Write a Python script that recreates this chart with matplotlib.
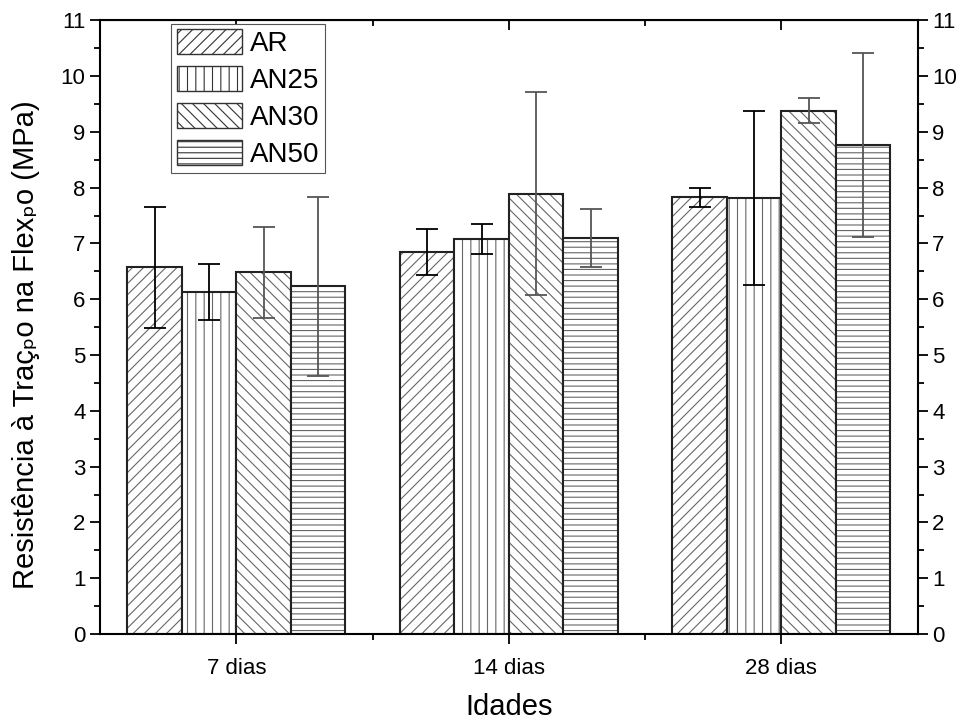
import numpy as np
import matplotlib.pyplot as plt
from matplotlib.patches import Patch

plt.rcParams['font.family'] = ['Liberation Sans', 'DejaVu Sans']
plt.rcParams['hatch.linewidth'] = 0.8

# dados
idades = ['7 dias', '14 dias', '28 dias']
series = ['AR', 'AN25', 'AN30', 'AN50']
ar = [6.57, 6.85, 7.83]
an25 = [6.13, 7.08, 7.82]
an30 = [6.48, 7.89, 9.38]
an50 = [6.23, 7.10, 8.77]
ar_err = [1.09, 0.41, 0.17]
an25_err = [0.51, 0.27, 1.56]
an30_err = [0.81, 1.82, 0.23]
an50_err = [1.60, 0.52, 1.65]

valores = [ar, an25, an30, an50]
erros = [ar_err, an25_err, an30_err, an50_err]
hatches = ['///', '||', '\\\\\\', '---']
err_cols = ['black', 'black', '#555555', '#555555']

fig = plt.figure(figsize=(9.71, 7.23), dpi=100)
ax = fig.add_axes([0.103, 0.123, 0.842, 0.849])

x = np.arange(1, len(idades) + 1)
w = 0.2
for i in range(len(series)):
    pos = x + (i - 1.5) * w
    # hachura cinza, borda preta por cima
    ax.bar(pos, valores[i], w, color='white', edgecolor='#666666',
           hatch=hatches[i], linewidth=0)
    ax.bar(pos, valores[i], w, fill=False, edgecolor='#222222', linewidth=1.5)
    ax.errorbar(pos, valores[i], yerr=erros[i], fmt='none', ecolor=err_cols[i],
                elinewidth=1.3, capsize=8, capthick=1.3)

ax.set_xlim(0.5, 3.5)
ax.set_ylim(0, 11)
ax.set_xticks(x)
ax.set_xticklabels(idades, fontsize=16)
ax.set_xticks([1.5, 2.5], minor=True)
ax.set_yticks(range(0, 12))
ax.set_yticks(np.arange(0.5, 11, 1), minor=True)
ax.tick_params(axis='y', which='major', labelsize=16)
ax.tick_params(axis='both', which='major', length=7, width=1.3)
ax.tick_params(axis='both', which='minor', length=4, width=1.3)
ax.tick_params(axis='y', which='both', direction='out', left=True, right=True,
               labelright=True)
ax.tick_params(axis='x', which='both', direction='out', bottom=True)
ax.tick_params(axis='x', which='major', pad=10)
for s in ax.spines.values():
    s.set_linewidth(1.5)

# ticks internos no topo
top = ax.secondary_xaxis('top')
top.set_xticks(x)
top.set_xticks([1.5, 2.5], minor=True)
top.tick_params(which='both', direction='in', labeltop=False, width=1.3)
top.tick_params(which='major', length=7)
top.tick_params(which='minor', length=4)
top.set_xticklabels([])

ax.set_xlabel('Idades', fontsize=21, labelpad=10)
ax.set_ylabel('Resistência à Traçₚo na Flexₚo (MPa)', fontsize=21)
ax.yaxis.set_label_coords(-0.073, 0.472)

handles = [Patch(facecolor='white', edgecolor='#333333', hatch=h, label=s)
           for h, s in zip(hatches, series)]
leg = ax.legend(handles=handles, loc='upper left', bbox_to_anchor=(0.087, 0.994),
                borderaxespad=0, fontsize=20, handlelength=2.35, handleheight=1.0,
                labelspacing=0.32, handletextpad=0.3, borderpad=0.2,
                fancybox=False, framealpha=1)
leg.get_frame().set_edgecolor('#555555')
leg.get_frame().set_linewidth(0.8)

fig.savefig('out.png', dpi=100)
